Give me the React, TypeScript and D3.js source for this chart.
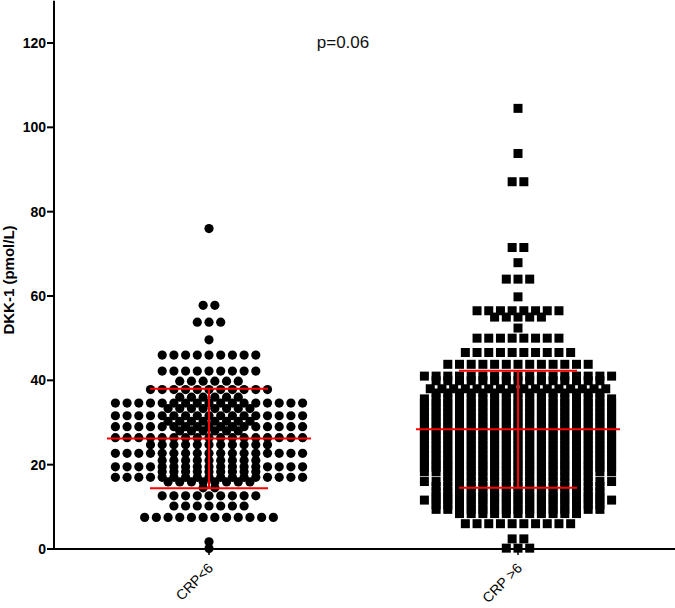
import React, { useRef, useEffect } from 'react';
import * as d3 from 'd3';

// groups on the x axis
const groups = ['CRP<6', 'CRP >6'];

// rows of the dot plot: [DKK-1 value, number of subjects in the row]
const crpLowRows: [number, number][] = [
    [76.0, 1], [57.8, 2], [53.8, 3], [49.6, 1], [46.0, 9], [42.2, 9], [39.8, 6],
    [37.8, 11], [36.0, 6], [34.6, 17], [33.3, 8], [31.6, 17], [30.3, 8], [29.0, 17],
    [28.0, 6], [26.4, 17], [24.7, 11], [22.7, 17], [21.0, 9], [19.5, 17], [18.3, 9],
    [17.0, 17], [15.9, 8], [14.5, 2], [12.6, 9], [10.2, 7], [7.5, 12], [1.7, 1], [0.1, 1],
];

const crpHighRows: [number, number][] = [
    [104.5, 1], [93.8, 1], [87.1, 2], [71.5, 2], [67.9, 1], [64.0, 3], [59.8, 1],
    [56.5, 8], [55.0, 5], [52.4, 1], [50.0, 8], [46.6, 10], [43.8, 13], [41.0, 17],
    [39.9, 15], [38.0, 16], [37.0, 15], [35.6, 17], [34.6, 17], [33.5, 17], [32.4, 17],
    [31.3, 17], [30.2, 17], [29.1, 17], [28.0, 17], [26.9, 17], [25.8, 17], [24.7, 17],
    [23.6, 17], [22.5, 17], [21.4, 17], [20.3, 17], [19.4, 17], [18.3, 17], [17.2, 13],
    [16.0, 17], [14.8, 15], [13.6, 15], [12.5, 15], [11.6, 17], [10.5, 15], [9.4, 15],
    [8.4, 11], [6.0, 10], [2.4, 2], [0.2, 3],
];

// mean and SD drawn in red
const groupMeans = [26.2, 28.4];
const groupSDs = [11.8, 13.9];

const yTicks = [0, 20, 40, 60, 80, 100, 120];
const yLabel = 'DKK-1 (pmol/L)';
const pValueText = 'p=0.06';

const FONT = '"Liberation Sans", Arial, sans-serif';

const App = () => {
    const svgRef = useRef<SVGSVGElement>(null);

    useEffect(() => {
        const svg = d3.select(svgRef.current);
        svg.selectAll('*').remove();

        const width = 675;
        const axisX = 54;
        const axisY = 549;
        const step = 11.7; // horizontal distance between neighbouring symbols

        const y = d3.scaleLinear().domain([0, 120]).range([axisY, 43]);
        const x = d3.scalePoint<string>().domain(groups).range([209, 518]);

        // expand rows into points, spread side by side around the group centre
        const toPoints = (rows: [number, number][], group: string) =>
            rows.flatMap(([value, n]) =>
                d3.range(n).map(i => ({ value, cx: (x(group) as number) + (i - (n - 1) / 2) * step }))
            );

        const lowPoints = toPoints(crpLowRows, groups[0]);
        const highPoints = toPoints(crpHighRows, groups[1]);

        // axes
        svg.append('line')
            .attr('x1', axisX).attr('x2', width)
            .attr('y1', axisY).attr('y2', axisY)
            .attr('stroke', '#000').attr('stroke-width', 2);

        svg.append('line')
            .attr('x1', axisX).attr('x2', axisX)
            .attr('y1', y(130)).attr('y2', axisY + 1)
            .attr('stroke', '#000').attr('stroke-width', 2);

        const yAxis = svg.append('g');
        yAxis.selectAll('line')
            .data(yTicks)
            .enter()
            .append('line')
            .attr('x1', axisX - 7).attr('x2', axisX)
            .attr('y1', d => y(d)).attr('y2', d => y(d))
            .attr('stroke', '#000').attr('stroke-width', 2);
        yAxis.selectAll('text')
            .data(yTicks)
            .enter()
            .append('text')
            .attr('x', axisX - 8)
            .attr('y', d => y(d))
            .attr('dy', '0.36em')
            .attr('text-anchor', 'end')
            .style('font-family', FONT)
            .style('font-weight', 'bold')
            .style('font-size', '14px')
            .text(d => d);

        svg.append('text')
            .attr('transform', 'translate(14,280) rotate(-90)')
            .attr('text-anchor', 'middle')
            .style('font-family', FONT)
            .style('font-weight', 'bold')
            .style('font-size', '15px')
            .text(yLabel);

        const xAxis = svg.append('g');
        xAxis.selectAll('line')
            .data(groups)
            .enter()
            .append('line')
            .attr('x1', d => x(d) as number).attr('x2', d => x(d) as number)
            .attr('y1', axisY).attr('y2', axisY + 6)
            .attr('stroke', '#000').attr('stroke-width', 1.5);
        xAxis.selectAll('text')
            .data(groups)
            .enter()
            .append('text')
            .attr('transform', d => `translate(${(x(d) as number) + 5},${axisY + 20}) rotate(-45)`)
            .attr('text-anchor', 'end')
            .style('font-family', FONT)
            .style('font-size', '14px')
            .text(d => d);

        // points
        svg.append('g')
            .selectAll('circle')
            .data(lowPoints)
            .enter()
            .append('circle')
            .attr('cx', d => d.cx)
            .attr('cy', d => y(d.value))
            .attr('r', 4.6)
            .attr('fill', '#000');

        const side = 9;
        svg.append('g')
            .selectAll('rect')
            .data(highPoints)
            .enter()
            .append('rect')
            .attr('x', d => d.cx - side / 2)
            .attr('y', d => y(d.value) - side / 2)
            .attr('width', side)
            .attr('height', side)
            .attr('fill', '#000');

        // mean +/- SD
        const stats = groups.map((g, i) => ({ g, mean: groupMeans[i], sd: groupSDs[i] }));
        const red = svg.append('g').attr('stroke', '#ff0000').attr('stroke-width', 2);
        stats.forEach(s => {
            const cx = x(s.g) as number;
            red.append('line')
                .attr('x1', cx - 102).attr('x2', cx + 102)
                .attr('y1', y(s.mean)).attr('y2', y(s.mean));
            red.append('line')
                .attr('x1', cx).attr('x2', cx)
                .attr('y1', y(s.mean + s.sd)).attr('y2', y(s.mean - s.sd));
            [s.mean + s.sd, s.mean - s.sd].forEach(v => {
                red.append('line')
                    .attr('x1', cx - 59).attr('x2', cx + 59)
                    .attr('y1', y(v)).attr('y2', y(v));
            });
        });

        svg.append('text')
            .attr('x', 343)
            .attr('y', 48)
            .attr('text-anchor', 'middle')
            .style('font-family', FONT)
            .style('font-size', '17px')
            .attr('fill', '#111')
            .text(pValueText);
    }, []);

    return (
        <svg
            ref={svgRef}
            width={675}
            height={608}
            style={{ position: 'absolute', left: 0, top: 0, background: '#fff' }}
        />
    );
};

export default App;
